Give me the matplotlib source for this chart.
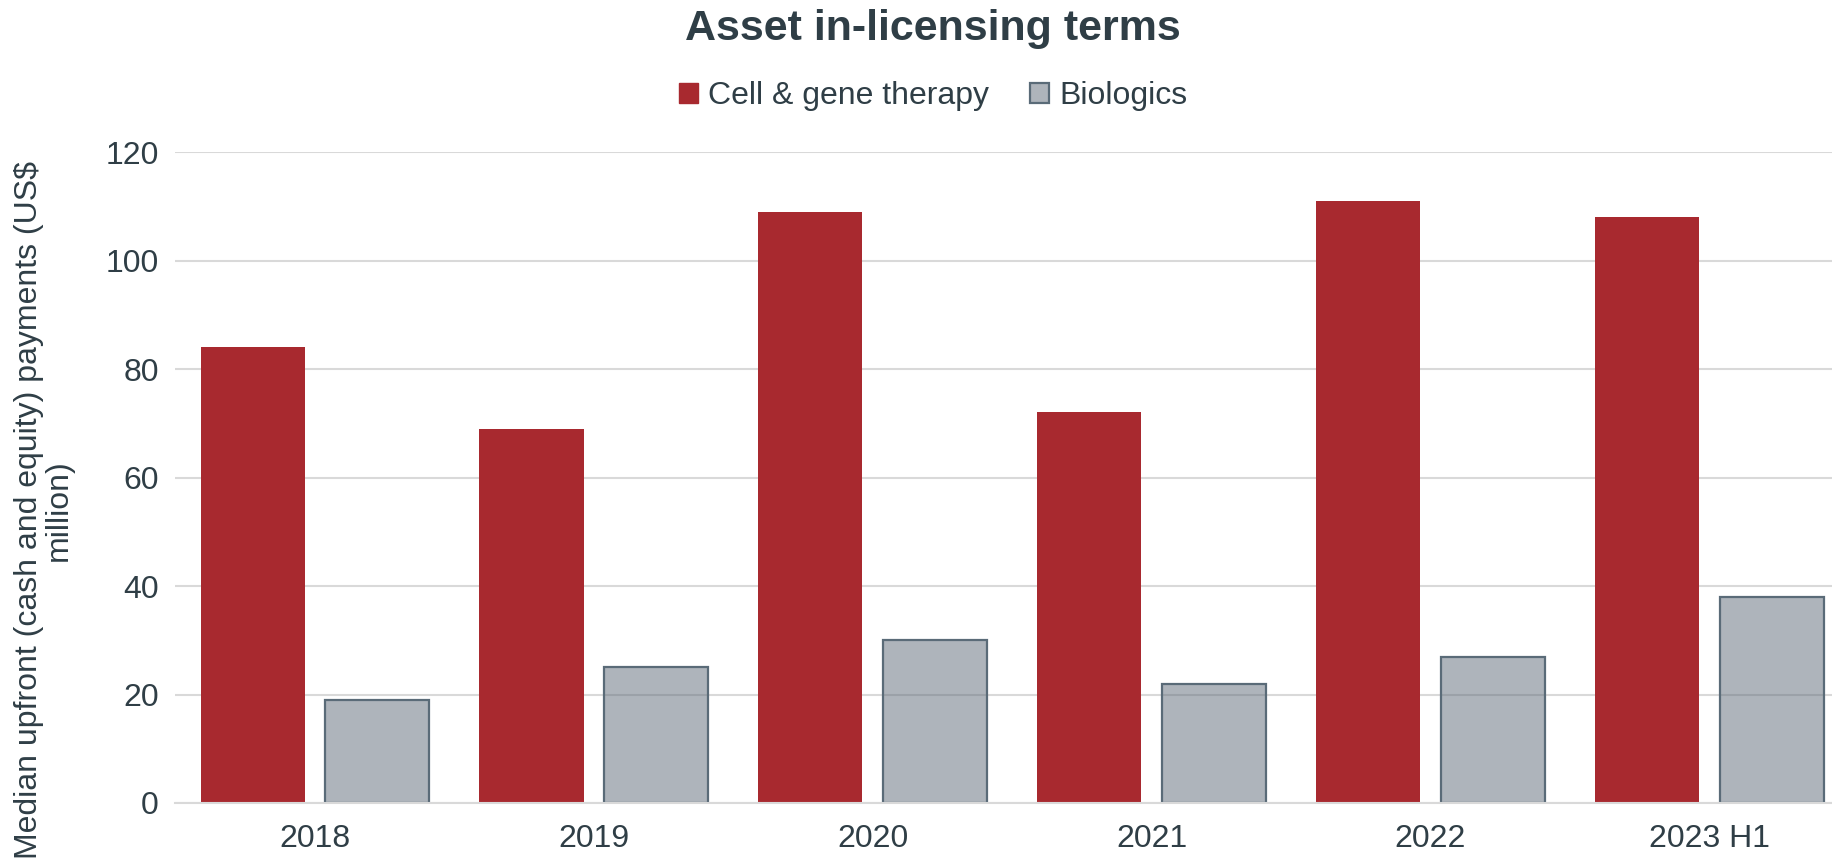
import numpy as np
import matplotlib.pyplot as plt
from matplotlib.patches import Patch

# median upfront payments, US$ million
years = ['2018', '2019', '2020', '2021', '2022', '2023 H1']
cell_gene = [84, 69, 109, 72, 111, 108]
biologics = [19, 25, 30, 22, 27, 38]

red = '#A8292F'
slate = '#5A6B78'
txt = '#2F3E46'

plt.rcParams['font.family'] = ['Liberation Sans', 'DejaVu Sans']

fig = plt.figure(figsize=(18.33, 8.59), dpi=100)
ax = fig.add_axes([0.0957, 0.0652, 0.9043, 0.7578])

x = np.arange(len(years))
w = 0.373
off = 0.2233
ax.bar(x - off, cell_gene, w, color=red, zorder=3)
ax.bar(x + off, biologics, w, facecolor=(94/255, 107/255, 120/255, 0.5),
       edgecolor=slate, linewidth=1.6, zorder=3)

ax.set_xlim(-0.5, 5.443)
ax.set_ylim(0, 120)
ax.set_yticks(range(0, 121, 20))
ax.set_xticks(x)
ax.set_xticklabels(years)
ax.yaxis.grid(True, color='#D9D9D9', linewidth=1.5, zorder=0)
ax.set_axisbelow(True)
for s in ['top', 'right', 'left']:
    ax.spines[s].set_visible(False)
ax.spines['bottom'].set_color('#D9D9D9')
ax.spines['bottom'].set_linewidth(1.5)
ax.spines['bottom'].set_zorder(4)
ax.tick_params(axis='both', length=0, labelsize=23, colors=txt)
ax.tick_params(axis='x', pad=15)
ax.tick_params(axis='y', pad=12)

fig.text(0.024, 0.406, 'Median upfront (cash and equity) payments (US$\nmillion)',
         rotation=90, ha='center', va='center', multialignment='center',
         fontsize=23, color=txt, linespacing=1.0)

fig.text(0.509, 0.966, 'Asset in-licensing terms', ha='center', va='center',
         fontsize=31, fontweight='bold', color=txt)

handles = [Patch(facecolor=red, edgecolor=red),
           Patch(facecolor=(94/255, 107/255, 120/255, 0.5), edgecolor=slate, linewidth=1.6)]
fig.legend(handles, ['Cell & gene therapy', 'Biologics'], loc='center',
           bbox_to_anchor=(0.509, 0.888), ncol=2, frameon=False, fontsize=23,
           handlelength=0.6, handleheight=0.6, handletextpad=0.3, columnspacing=1.3,
           labelcolor=txt)

plt.savefig('out.png')
